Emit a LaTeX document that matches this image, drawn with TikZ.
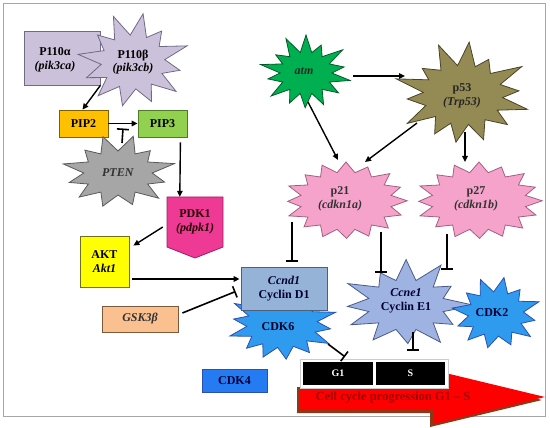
\documentclass[tikz,border=0pt]{standalone}
\usepackage{fontspec}
\setmainfont{Liberation Serif}
\usetikzlibrary{calc,arrows.meta}
\definecolor{lav}{HTML}{CCC1DA}
\definecolor{lavd}{HTML}{6F6A86}
\definecolor{pipa}{HTML}{FFC000}
\definecolor{pipad}{HTML}{7F6000}
\definecolor{pipb}{HTML}{92D050}
\definecolor{pipbd}{HTML}{4F7A2A}
\definecolor{ptenc}{HTML}{A6A6A6}
\definecolor{ptend}{HTML}{5A5A5A}
\definecolor{pdkc}{HTML}{EE3A95}
\definecolor{pdkd}{HTML}{9A2060}
\definecolor{aktc}{HTML}{FFFF00}
\definecolor{aktd}{HTML}{6F6F20}
\definecolor{gskc}{HTML}{FAC090}
\definecolor{gskd}{HTML}{7A5A3A}
\definecolor{cycd}{HTML}{95B3D7}
\definecolor{cycdd}{HTML}{4A6080}
\definecolor{cdkc}{HTML}{2E9BEF}
\definecolor{cdkd}{HTML}{2F4FB0}
\definecolor{atmc}{HTML}{00B050}
\definecolor{atmd}{HTML}{005A28}
\definecolor{p53c}{HTML}{948A54}
\definecolor{p53d}{HTML}{4A4428}
\definecolor{pinkc}{HTML}{F6A3CB}
\definecolor{pinkd}{HTML}{A06080}
\definecolor{cyce}{HTML}{9EB3E2}
\definecolor{cyced}{HTML}{4A5A8A}
\definecolor{arrred}{HTML}{FF0000}
\definecolor{arrsh}{HTML}{8A3A18}
\definecolor{txtred}{HTML}{A00000}
% #1 centre, #2 rx, #3 ry, #4 spikes, #5 inner ratio, #6 start angle, #7 irregularity, #8 style
\newcommand\burst[8]{%
  \pgfmathtruncatemacro\bN{2*#4-1}%
  \draw[#8] ($(#1)+({#2*cos(#6)},{#3*sin(#6)})$)
    \foreach \k [evaluate=\k as \bang using #6+\k*180/#4+(1-isodd(\k))*#7*20*sin(\k*131),
                 evaluate=\k as \bfac using isodd(\k)*#5+(1-isodd(\k))*(1-#7+#7*cos(\k*97))] in {1,...,\bN}
    { -- ($(#1)+({\bfac*#2*cos(\bang)},{\bfac*#3*sin(\bang)})$) } -- cycle;
}
\begin{document}
\begin{tikzpicture}[x=1pt,y=-1pt,
  lbl/.style={font=\fontsize{12}{13.5}\selectfont\bfseries, align=center, inner sep=0pt},
  box/.style={draw=#1, line width=0.8pt, inner sep=0pt},
  arr/.style={-{Triangle[length=6pt,width=5.5pt]}, line width=1.4pt},
  inh/.style={-{Bar[width=12pt,line width=1.6pt]}, line width=1.6pt},
]
\useasboundingbox (0,0) rectangle (550,428);
\draw[gray!70, line width=0.8pt] (3,3) rectangle (545,416);

% PI3K
\node[box=lavd, fill=lav, minimum width=76pt, minimum height=54pt] (p110a) at (62,58) {};
\node[lbl] (p110at) at (55,60) {P110α\\\textit{(pik3ca)}};
\coordinate (p110bc) at (133,62);
\burst{p110bc}{58}{49}{12}{0.55}{-80}{0.1}{fill=lav, draw=lavd, line width=0.8pt}
\node[lbl] (p110b) at (p110bc) {P110β\\\textit{(pik3cb)}};

\node[box=pipad, fill=pipa, lbl, minimum width=49pt, minimum height=27pt] (pip2) at (83.5,123.5) {PIP2};
\node[box=pipbd, fill=pipb, lbl, minimum width=49pt, minimum height=27pt] (pip3) at (162.5,123.5) {PIP3};

\coordinate (ptenc) at (118,173);
\burst{ptenc}{59}{38}{12}{0.58}{-75}{0.1}{fill=ptenc, draw=ptend, line width=0.8pt}
\node[lbl, text=black!80] (pten) at (ptenc) {\textit{PTEN}};

\coordinate (pdkcc) at (195,222);
\filldraw[fill=pdkc, draw=pdkd, line width=0.8pt] ($(pdkcc)+(-28,-25)$) -- ($(pdkcc)+(28,-25)$) -- ($(pdkcc)+(28,25)$) -- ($(pdkcc)+(0,36)$) -- ($(pdkcc)+(-28,25)$) -- cycle;
\node[lbl, text=black!85!red, minimum width=56pt, minimum height=50pt] (pdk1) at (pdkcc) {PDK1\\\textit{(pdpk1)}};

\node[box=aktd, fill=aktc, lbl, minimum width=49pt, minimum height=51pt] (akt) at (104.5,261.5) {AKT\\\textit{Akt1}};
\node[box=gskd, fill=gskc, lbl, text=black!80, minimum width=76pt, minimum height=26pt] (gsk) at (140,319) {\textit{GSK3β}};

% Cyclin D1 / CDK6
\coordinate (cdk6c) at (282,324);
\burst{cdk6c}{57}{38}{14}{0.62}{-70}{0.08}{fill=cdkc, draw=cdkd, line width=0.8pt}
\node[lbl, text=black!85!blue] (cdk6) at (278,327) {CDK6};
\node[box=cycdd, fill=cycd, lbl, text=black!80!blue, minimum width=86pt, minimum height=43pt] (cycd1) at (284,288.5) {\textit{Ccnd1}\\Cyclin D1};
\node[box=cdkd, fill=cdkc!80!blue, lbl, text=black!80!blue, minimum width=65pt, minimum height=23pt] (cdk4) at (234.5,380.5) {CDK4};

% p53 pathway
\coordinate (atmc) at (306,73);
\burst{atmc}{47}{38}{14}{0.55}{-90}{0.1}{fill=atmc, draw=atmd, line width=0.8pt}
\node[lbl, text=black!85] (atm) at (304,71) {\textit{atm}};
\coordinate (p53c) at (463,95);
\burst{p53c}{71}{53}{14}{0.56}{-85}{0.12}{fill=p53c, draw=p53d, line width=0.8pt}
\node[lbl, text=black!85] (p53) at (462,96) {p53\\\textit{(Trp53)}};
\coordinate (p21c) at (346,201);
\burst{p21c}{62}{39}{16}{0.74}{-90}{0.03}{fill=pinkc, draw=pinkd, line width=0.8pt}
\node[lbl, text=black!80] (p21) at (340,199) {p21\\\textit{(cdkn1a)}};
\coordinate (p27c) at (479,201);
\burst{p27c}{64}{39}{16}{0.74}{-90}{0.03}{fill=pinkc, draw=pinkd, line width=0.8pt}
\node[lbl, text=black!80] (p27) at (476,199) {p27\\\textit{(cdkn1b)}};

% Cyclin E1 / CDK2
\coordinate (cycec) at (406,305);
\burst{cycec}{70}{46}{12}{0.55}{-60}{0.12}{fill=cyce, draw=cyced, line width=0.8pt}
\node[lbl, text=black!80!blue] (cyce1) at (406,301) {\textit{Ccne1}\\Cyclin E1};
\coordinate (cdk2c) at (496,314);
\burst{cdk2c}{46}{37}{12}{0.6}{-80}{0.08}{fill=cdkc, draw=cdkd, line width=0.8pt}
\node[lbl, text=black!80!blue] (cdk2) at (492,313) {CDK2};

% cell cycle arrow
\begin{scope}[shift={(-3,3)}]
\fill[arrsh] (300,384) -- (433,384) -- (433,370) -- (545,397) -- (433,424) -- (433,410) -- (300,410) -- cycle;
\end{scope}
\fill[arrred] (300,384) -- (433,384) -- (433,370) -- (545,397) -- (433,424) -- (433,410) -- (300,410) -- cycle;
\node[font=\fontsize{12.5}{14}\selectfont\bfseries, text=txtred] (prog) at (393,398) {Cell cycle progression G1 – S};
\node[draw=gray!40, fill=white, minimum width=148pt, minimum height=29pt, inner sep=0pt] (gsbg) at (374,373.5) {};
\node[fill=black, text=white, lbl, font=\fontsize{10}{12}\selectfont\bfseries, minimum width=70pt, minimum height=23pt] (g1) at (338,373.5) {G1};
\node[fill=black, text=white, lbl, font=\fontsize{10}{12}\selectfont\bfseries, minimum width=69pt, minimum height=23pt] (s) at (410.5,373.5) {S};

% connectors
\draw[arr] (p110a.south east) -- ($(pip2.north)+(-1,0)$);
\draw[arr] (pip2.east) -- (pip3.west);
\draw[inh] ($(pten)+(4,-30)$) -- ($(pip2.east)!0.5!(pip3.west)+(0,5)$);
\draw[arr] ($(pip3.south east)+(-7,5)$) -- ($(pdk1.north west)+(13,0)$);
\draw[arr] ($(pdk1.west)+(-4,5)$) -- ($(akt.north east)+(4,10)$);
\draw[arr] ($(akt.east)+(3,17.5)$) -- ($(cycd1.west)+(-1,-9.5)$);
\draw[inh] ($(gsk.east)+(4,-6)$) -- ($(cycd1.west)+(-5,3)$);
\draw[arr] ($(atm)+(49,5)$) -- ($(p53)+(-57,-20)$);
\draw[arr] ($(atm)+(4,31)$) -- ($(p21)+(-2,-39)$);
\draw[arr] ($(p53)+(-45,27)$) -- ($(p21)+(25,-37)$);
\draw[arr] ($(p53)+(3,36)$) -- ($(p27)+(-11,-37)$);
\draw[inh] ($(p21)+(-48,23)$) -- ($(cycd1.north)+(8,-5)$);
\draw[inh] ($(p21)+(41,33)$) -- ($(cyce1)+(-25,-28)$);
\draw[inh] ($(p27)+(-29,35)$) -- ($(cyce1)+(41,-31)$);
\draw[inh] ($(cyce1)+(7,31)$) -- ($(s.north)+(2.5,-11)$);
\draw[inh] ($(cdk6)+(50,17)$) -- ($(g1.north)+(7,-5)$);
\end{tikzpicture}
\end{document}
